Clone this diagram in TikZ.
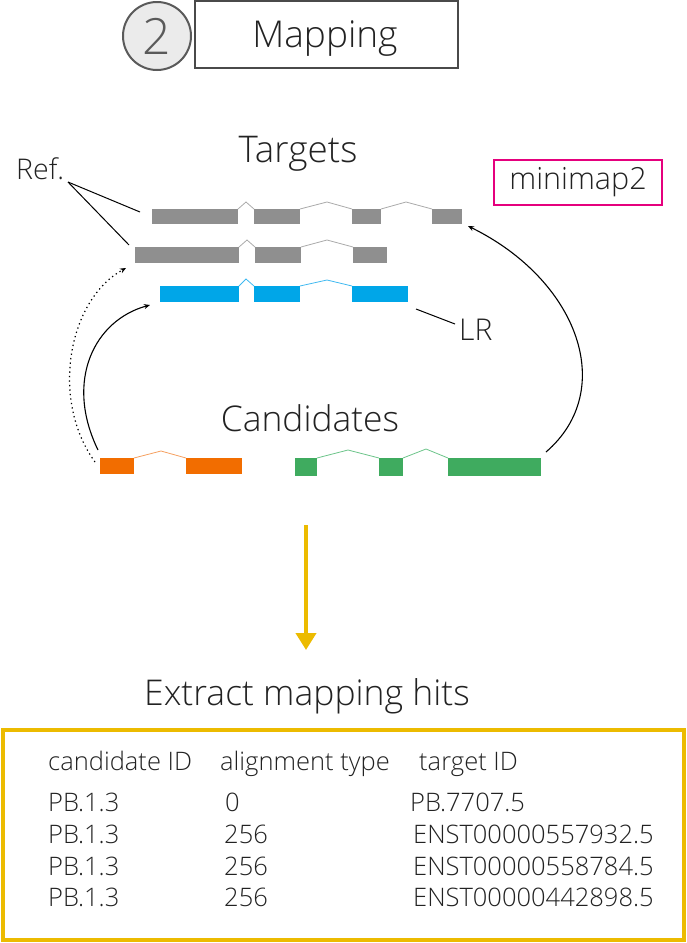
\documentclass[tikz,border=0pt]{standalone}
\usepackage{fontspec}
\setmainfont{Open Sans}[UprightFont={* Light}]
\usetikzlibrary{arrows.meta}
\definecolor{exgray}{HTML}{8F8F8F}
\definecolor{ingray}{HTML}{AAAAAA}
\definecolor{exblue}{HTML}{00A6E8}
\definecolor{inblue}{HTML}{3DB8F0}
\definecolor{exorange}{HTML}{F26D00}
\definecolor{inorange}{HTML}{F5A060}
\definecolor{exgreen}{HTML}{3FAB5F}
\definecolor{ingreen}{HTML}{6CC48A}
\definecolor{magentabox}{HTML}{E5007D}
\definecolor{goldline}{HTML}{ECBB00}
\definecolor{txt}{HTML}{222222}
\definecolor{circfill}{HTML}{EBEBEB}
\definecolor{circline}{HTML}{5A5A5A}
\definecolor{boxline}{HTML}{4A4A4A}
\tikzset{
  exon/.style={rectangle, inner sep=0pt, outer sep=0pt, minimum height=16pt},
  intron/.style={line width=0.8pt},
  lbl/.style={inner sep=0pt, text=txt},
  arr/.style={line width=1.1pt, -{Stealth[length=6pt,width=5pt]}},
  dotarr/.style={line width=1.2pt, dash pattern=on 1.3pt off 3.2pt, -{Stealth[length=6pt,width=5pt]}},
  pointer/.style={line width=1pt, black}
}
\begin{document}
\begin{tikzpicture}[x=1pt,y=-1pt]
\useasboundingbox (0,0) rectangle (687,943);
% header
\node[circle, draw=circline, fill=circfill, line width=2pt, minimum size=68pt, inner sep=0pt, text=circline, font=\fontsize{50}{52}\selectfont] (num) at (157,36) {2};
\node[rectangle, draw=boxline, line width=2.2pt, minimum width=263pt, minimum height=67pt, inner sep=0pt] (title) at (326.5,34.5) {};
\node[lbl, font=\fontsize{37}{40}\selectfont] (titletext) at (325,38.5) {Mapping};

% labels
\node[lbl, anchor=base, font=\fontsize{36.8}{38}\selectfont] (targets) at (298,162) {Targets};
\node[lbl, anchor=base west, font=\fontsize{28.5}{30}\selectfont] (ref) at (16,179) {Ref.};
\node[rectangle, draw=magentabox, line width=2pt, minimum width=168pt, minimum height=45pt, inner sep=0pt, text=txt, font=\fontsize{30.5}{32}\selectfont] (mm) at (578,182.5) {minimap2};
\node[lbl, anchor=base west, font=\fontsize{30}{32}\selectfont] (lr) at (459,340) {LR};
\node[lbl, anchor=base, font=\fontsize{35.4}{37}\selectfont] (cand) at (310,431) {Candidates};
\node[lbl, anchor=base, font=\fontsize{35.5}{37}\selectfont] (extract) at (307,705) {Extract mapping hits};

% target 1 (gray)
\node[exon, fill=exgray, minimum height=15pt, minimum width=86pt] (t1a) at (195,216.5) {};
\node[exon, fill=exgray, minimum height=15pt, minimum width=46pt] (t1b) at (277,216.5) {};
\node[exon, fill=exgray, minimum height=15pt, minimum width=29pt] (t1c) at (366.5,216.5) {};
\node[exon, fill=exgray, minimum height=15pt, minimum width=30pt] (t1d) at (447,216.5) {};
\draw[intron, ingray] (t1a.north east) -- (246,202) -- (t1b.north west);
\draw[intron, ingray] (t1b.north east) -- (327,202) -- (t1c.north west);
\draw[intron, ingray] (t1c.north east) -- (406,202) -- (t1d.north west);
% target 2 (gray)
\node[exon, fill=exgray, minimum width=104pt] (t2a) at (187,255) {};
\node[exon, fill=exgray, minimum width=46pt] (t2b) at (278,255) {};
\node[exon, fill=exgray, minimum width=34pt] (t2c) at (370,255) {};
\draw[intron, ingray] (t2a.north east) -- (247,240) -- (t2b.north west);
\draw[intron, ingray] (t2b.north east) -- (327,240) -- (t2c.north west);
% long read (blue)
\node[exon, fill=exblue, minimum width=79pt] (l1) at (199.5,294) {};
\node[exon, fill=exblue, minimum width=46pt] (l2) at (277,294) {};
\node[exon, fill=exblue, minimum width=56pt] (l3) at (380,294) {};
\draw[intron, inblue] (l1.north east) -- (246,279) -- (l2.north west);
\draw[intron, inblue] (l2.north east) -- (327,280) -- (l3.north west);
% candidate orange
\node[exon, fill=exorange, minimum width=34pt] (o1) at (117,466) {};
\node[exon, fill=exorange, minimum width=56pt] (o2) at (214,466) {};
\draw[intron, inorange] (o1.north east) -- (161,451) -- (o2.north west);
% candidate green
\node[exon, fill=exgreen, minimum height=18pt, minimum width=22pt] (g1) at (306,467) {};
\node[exon, fill=exgreen, minimum height=18pt, minimum width=24pt] (g2) at (391,467) {};
\node[exon, fill=exgreen, minimum height=18pt, minimum width=93pt] (g3) at (494.5,467) {};
\draw[intron, ingreen] (g1.north east) -- (348,450) -- (g2.north west);
\draw[intron, ingreen] (g2.north east) -- (426,449) -- (g3.north west);

% pointers
\coordinate (refpt) at (68,182);
\coordinate (ref1) at (140,212);
\coordinate (ref2) at (129,245);
\draw[pointer] (refpt) -- (ref1);
\draw[pointer] (refpt) -- (ref2);
\coordinate (lrs) at (416,309);
\coordinate (lre) at (455,324);
\draw[pointer] (lrs) -- (lre);

% mapping arrows
\draw[arr] ([xshift=-2pt,yshift=8pt]o1.north west) .. controls (64,380) and (95,320) .. ([xshift=-10pt,yshift=-3pt]l1.south west);
\draw[dotarr] ([xshift=-5pt,yshift=-4pt]o1.north west) .. controls (50,400) and (68,300) .. ([xshift=-9pt,yshift=-5pt]t2a.south west);
\draw[arr] ([xshift=5pt,yshift=6pt]g3.north east) .. controls (618,390) and (578,280) .. ([xshift=6pt,yshift=-2pt]t1d.south east);

% yellow arrow
\coordinate (ya) at (306,525);
\coordinate (yb) at (306,650);
\draw[goldline, line width=4pt, -{Triangle[length=17pt,width=20pt]}] (ya) -- (yb);

% results box
\node[rectangle, draw=goldline, line width=3.5pt, minimum width=681pt, minimum height=210pt, inner sep=0pt] (res) at (343.5,835) {};
\begin{scope}[every node/.style={lbl, anchor=base west, font=\fontsize{25.5}{27}\selectfont}]
\node (h1) at (48,770) {candidate ID};
\node (h2) at (220,770) {alignment type};
\node (h3) at (419,770) {target ID};
\node (r11) at (48,811) {PB.1.3};
\node (r12) at (225,811) {0};
\node (r13) at (410,811) {PB.7707.5};
\node (r21) at (48,843) {PB.1.3};
\node (r22) at (224,843) {256};
\node (r23) at (413,843) {ENST00000557932.5};
\node (r31) at (48,875) {PB.1.3};
\node (r32) at (224,875) {256};
\node (r33) at (413,875) {ENST00000558784.5};
\node (r41) at (48,906) {PB.1.3};
\node (r42) at (224,906) {256};
\node (r43) at (413,906) {ENST00000442898.5};
\end{scope}
\end{tikzpicture}
\end{document}
